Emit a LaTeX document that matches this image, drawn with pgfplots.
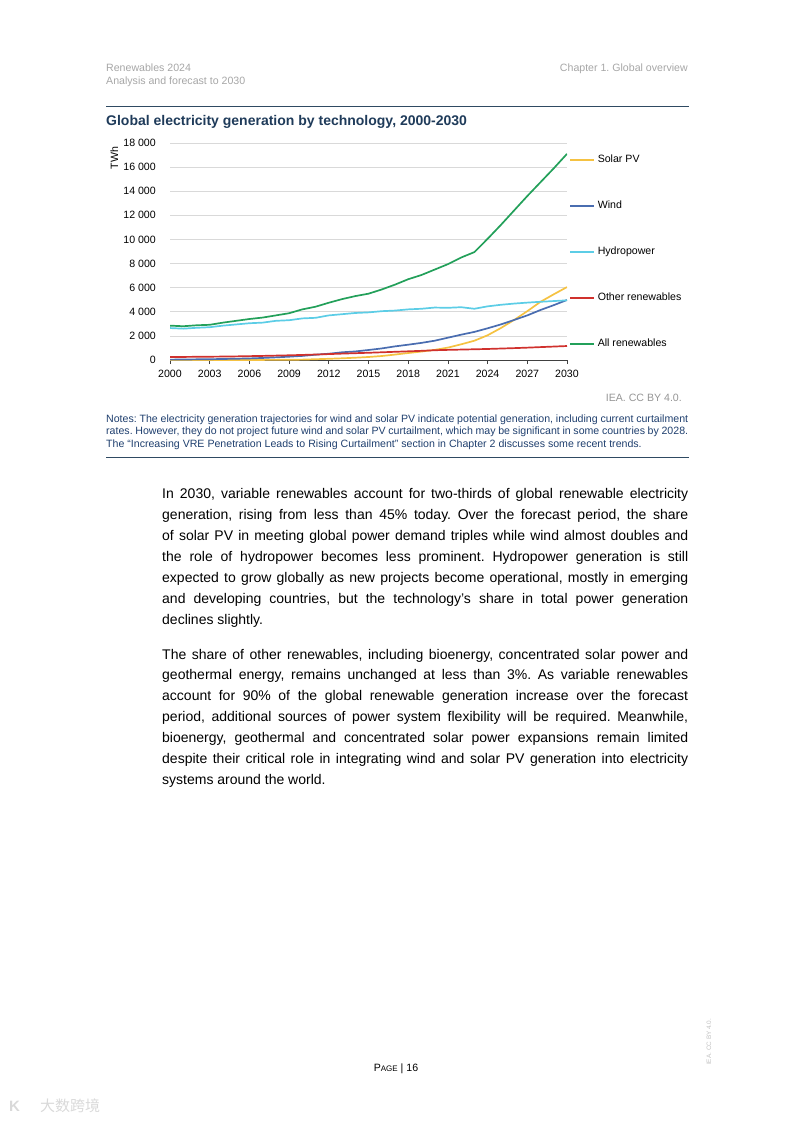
\documentclass[border=0pt]{standalone}
\usepackage{pgfplots}
\pgfplotsset{compat=1.18}
\usepackage{pgfplotstable}
\usepackage{fontspec}
\setmainfont{Liberation Sans}
\newfontfamily\cjk{Noto Sans CJK SC}
\definecolor{solar}{HTML}{F5C242}
\definecolor{wind}{HTML}{4A6DB0}
\definecolor{hydro}{HTML}{5CCDE6}
\definecolor{other}{HTML}{D0312D}
\definecolor{allren}{HTML}{23A05A}
\definecolor{gridgray}{HTML}{D9D9D9}
\definecolor{headgray}{HTML}{A6A6A6}
\definecolor{navy}{HTML}{1F3B5A}
\definecolor{notes}{HTML}{1F3F6E}
\definecolor{rulec}{HTML}{2F4A62}

\pgfplotstableread{
year solar wind hydro other all
2000 1 30 2650 250 2850
2001 2 40 2600 255 2800
2002 2 55 2670 265 2880
2003 3 65 2720 275 2920
2004 4 85 2850 285 3100
2005 4 105 2950 300 3250
2006 6 130 3050 320 3400
2007 8 170 3100 340 3520
2008 12 220 3250 365 3700
2009 20 275 3300 390 3880
2010 32 340 3450 420 4200
2011 65 440 3500 455 4420
2012 100 520 3700 490 4750
2013 140 640 3800 530 5050
2014 190 710 3900 565 5300
2015 250 830 3950 600 5500
2016 330 960 4050 640 5850
2017 450 1130 4100 680 6250
2018 580 1270 4200 720 6700
2019 700 1420 4250 760 7050
2020 840 1600 4350 810 7500
2021 1030 1850 4330 840 7950
2022 1300 2100 4380 865 8500
2023 1600 2330 4250 890 8950
2024 2050 2630 4450 915 10050
2025 2650 2950 4580 950 11200
2026 3320 3320 4680 985 12400
2027 4050 3700 4760 1025 13600
2028 4830 4150 4830 1070 14750
2029 5450 4550 4890 1115 15900
2030 6050 4980 4950 1160 17100
}\gendata

\newcommand{\bline}[1]{\makebox[526pt][s]{#1}}
\newcommand{\nline}[1]{\makebox[582pt][s]{#1}}
\frenchspacing

\begin{document}
\begin{tikzpicture}
\useasboundingbox (0pt,0pt) rectangle (793pt,-1121pt);
\begin{scope}[x=1pt,y=-1pt]
% header
\node[anchor=base west,inner sep=0,text=headgray,font=\fontsize{10.6}{12}\selectfont] at (106,72) {Renewables 2024};
\node[anchor=base west,inner sep=0,text=headgray,font=\fontsize{10.6}{12}\selectfont] at (106,84.5) {Analysis and forecast to 2030};
\node[anchor=base east,inner sep=0,text=headgray,font=\fontsize{10.6}{12}\selectfont] at (688,72) {Chapter 1. Global overview};
\draw[rulec,line width=0.9pt] (106,106) -- (689,106);
\node[anchor=base west,inner sep=0,text=navy,font=\fontsize{14}{16}\selectfont\bfseries] at (106,125) {Global electricity generation by technology, 2000-2030};
\node[rotate=90,anchor=base,inner sep=0,font=\fontsize{10.6}{12}\selectfont] at (118,158) {TWh};
% source + notes
\node[anchor=base east,inner sep=0,text=headgray!90!black,font=\fontsize{10.6}{12}\selectfont] at (682,401) {IEA. CC BY 4.0.};
\begin{scope}[every node/.style={anchor=base west,inner sep=0,text=notes,font=\fontsize{10.6}{12}\selectfont}]
\node at (106,422) {\nline{Notes: The electricity generation trajectories for wind and solar PV indicate potential generation, including current curtailment}};
\node at (106,434.5) {\nline{rates. However, they do not project future wind and solar PV curtailment, which may be significant in some countries by 2028.}};
\node at (106,447) {The “Increasing VRE Penetration Leads to Rising Curtailment” section in Chapter 2 discusses some recent trends.};
\end{scope}
\draw[rulec,line width=0.9pt] (106,457) -- (689,457);
% body
\begin{scope}[every node/.style={anchor=base west,inner sep=0,font=\fontsize{14}{21}\selectfont}]
\node at (162,498) {\bline{In 2030, variable renewables account for two-thirds of global renewable electricity}};
\node at (162,519) {\bline{generation, rising from less than 45\% today. Over the forecast period, the share}};
\node at (162,540) {\bline{of solar PV in meeting global power demand triples while wind almost doubles and}};
\node at (162,561) {\bline{the role of hydropower becomes less prominent. Hydropower generation is still}};
\node at (162,582) {\bline{expected to grow globally as new projects become operational, mostly in emerging}};
\node at (162,603) {\bline{and developing countries, but the technology’s share in total power generation}};
\node at (162,624) {declines slightly.};
\node at (162,659) {\bline{The share of other renewables, including bioenergy, concentrated solar power and}};
\node at (162,679.8) {\bline{geothermal energy, remains unchanged at less than 3\%. As variable renewables}};
\node at (162,700.7) {\bline{account for 90\% of the global renewable generation increase over the forecast}};
\node at (162,721.5) {\bline{period, additional sources of power system flexibility will be required. Meanwhile,}};
\node at (162,742.3) {\bline{bioenergy, geothermal and concentrated solar power expansions remain limited}};
\node at (162,763.2) {\bline{despite their critical role in integrating wind and solar PV generation into electricity}};
\node at (162,784) {systems around the world.};
\end{scope}
% footer
\node[anchor=base,inner sep=0,font=\fontsize{10.6}{12}\selectfont] at (396,1071) {P{\fontsize{8}{10}\selectfont AGE} | 16};
\node[rotate=90,anchor=base west,inner sep=0,text=headgray!70,font=\fontsize{6.4}{8}\selectfont] at (711,1065) {IEA. CC BY 4.0.};
\node[anchor=base west,inner sep=0,text=black!15,font=\fontsize{15}{16}\selectfont\cjk] at (40,1111) {大数跨境};
\node[anchor=base west,inner sep=0,text=black!15,font=\fontsize{15}{16}\selectfont\bfseries] at (9,1111) {K};
\end{scope}

\begin{axis}[
  at={(170pt,-360pt)}, anchor=south west,
  scale only axis, width=397pt, height=217pt,
  xmin=2000, xmax=2030, ymin=0, ymax=18000,
  scaled y ticks=false, scaled x ticks=false,
  axis x line*=bottom, axis y line*=left,
  y axis line style={draw=none},
  x axis line style={draw=black!75, line width=0.8pt},
  ytick={0,2000,...,18000},
  yticklabels={0,2 000,4 000,6 000,8 000,10 000,12 000,14 000,16 000,18 000},
  xtick={2000,2003,...,2030},
  xticklabels={2000,2003,2006,2009,2012,2015,2018,2021,2024,2027,2030},
  ytick style={draw=none},
  xtick style={draw=black!75, line width=0.7pt},
  tick align=outside, major tick length=4pt,
  ymajorgrids, grid style={gridgray, line width=0.7pt},
  tick label style={font=\fontsize{10.6}{12}\selectfont},
  yticklabel style={inner sep=0pt, xshift=-10pt},
  xticklabel style={inner sep=0pt, yshift=-6pt},
  legend style={draw=none, fill=none, inner sep=0pt, at={(1.006,0.947)}, anchor=north west,
    row sep=36pt, column sep=2.5pt, font=\fontsize{10.6}{12}\selectfont,
    nodes={inner sep=0pt, text height=7.5pt, text depth=2.5pt}},
  legend cell align=left,
  legend image code/.code={\draw[#1] (0pt,0pt) -- (24pt,0pt);},
  every axis plot/.append style={line width=1.7pt, line join=round},
]
\addplot[solar, no markers] table[x=year,y=solar] {\gendata};
\addlegendentry{Solar PV}
\addplot[wind, no markers] table[x=year,y=wind] {\gendata};
\addlegendentry{Wind}
\addplot[hydro, no markers] table[x=year,y=hydro] {\gendata};
\addlegendentry{Hydropower}
\addplot[other, no markers] table[x=year,y=other] {\gendata};
\addlegendentry{Other renewables}
\addplot[allren, no markers] table[x=year,y=all] {\gendata};
\addlegendentry{All renewables}
\end{axis}
\end{tikzpicture}
\end{document}
